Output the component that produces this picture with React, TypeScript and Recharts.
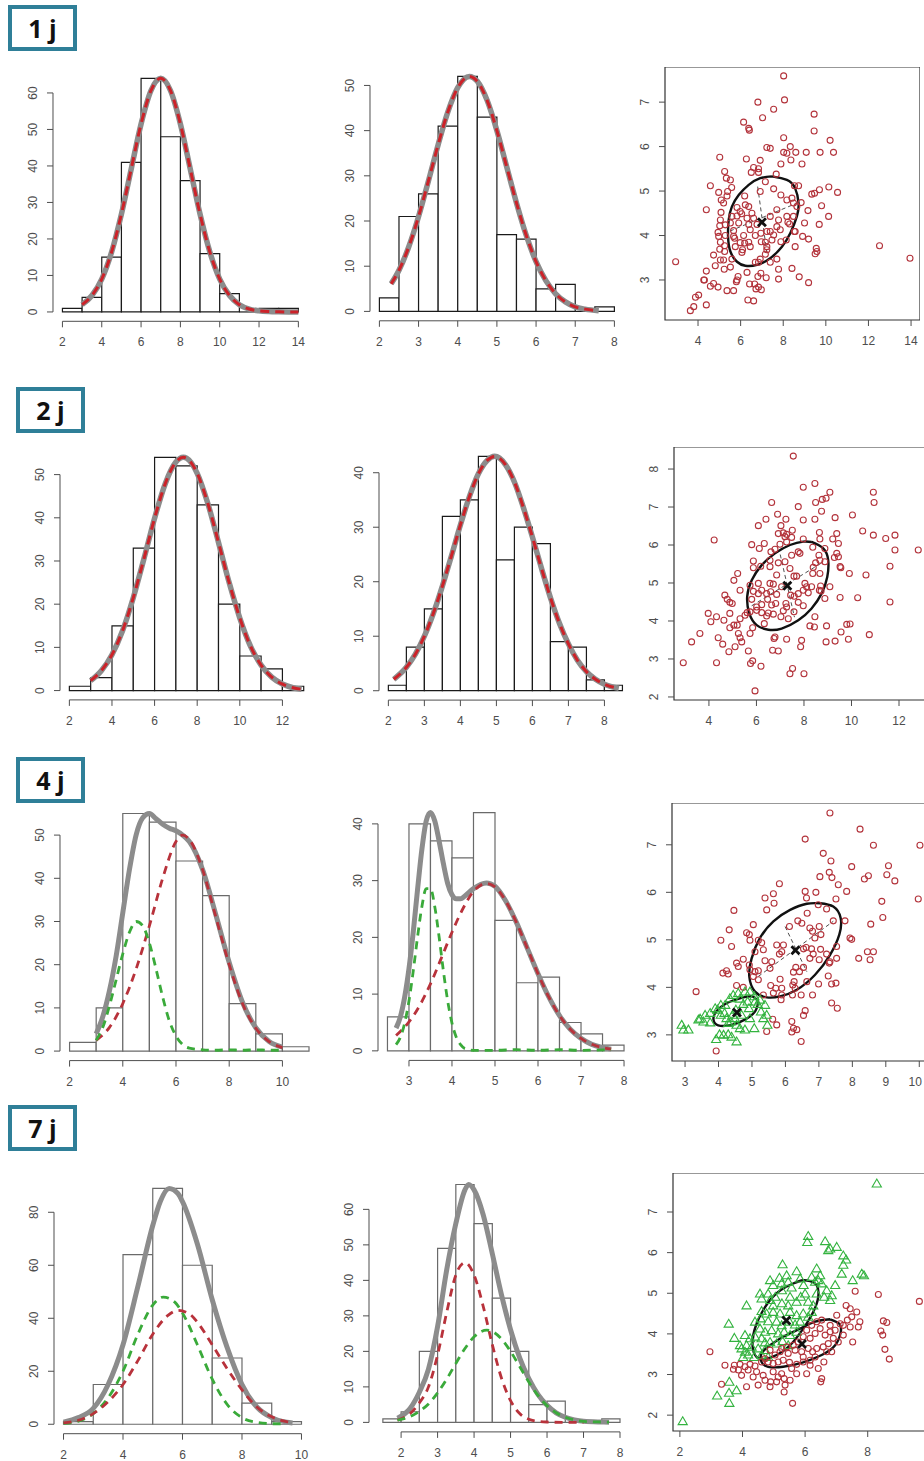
import React from 'react';
import { ComposedChart, XAxis, YAxis, Line, Scatter, ReferenceArea, ReferenceLine } from 'recharts';

type P = [number, number];
const pts = (a: P[]) => a.map(([x, y]) => ({ x, y }));

const AXIS = '#4d4d4d';
const FONT = '"Liberation Sans", Arial, Helvetica, sans-serif';
const GRAY = '#8c8c8c';
const RED = '#cc2229';
const RED2 = '#b8323b';
const GREEN = '#3aaa3a';
const PT_RED = '#b3333b';
const PT_GREEN = '#33b33f';
const FRAME = '#2f7f98';

// ---- histogram counts (bin start, width, counts) ----
const counts11 = [1, 4, 15, 41, 64, 48, 36, 16, 5, 0, 1, 1];
const counts12 = [3, 21, 26, 41, 52, 43, 17, 16, 5, 6, 0, 1];
const counts21 = [1, 3, 15, 33, 54, 52, 43, 20, 8, 5, 1];
const counts22 = [1, 8, 15, 32, 35, 43, 24, 30, 27, 9, 8, 2, 1];
const counts31 = [2, 10, 55, 53, 44, 36, 11, 4, 1];
const counts32 = [6, 40, 37, 34, 42, 23, 12, 13, 5, 3, 1];
const counts41 = [1, 15, 64, 89, 60, 25, 8, 1];
const counts42 = [1, 3, 20, 49, 67, 56, 35, 20, 5, 6, 0, 0, 1];

// ---- fitted density curves ----
const fit11: P[] = [[3, 2], [3.5, 4.5], [4, 9], [4.5, 16.4], [5, 26.8], [5.5, 39.2], [6, 51.5], [6.5, 60.6], [7, 64], [7.5, 60.6], [8, 51.5], [8.5, 39.2], [9, 26.8], [9.5, 16.4], [10, 9], [10.5, 4.5], [11, 2], [11.5, 0.8], [12, 0.3], [12.5, 0.1], [13, 0.03], [13.5, 0], [14, 0]];
const fit12: P[] = [[2.3, 6.1], [2.5, 9.1], [2.75, 14.3], [3, 21], [3.25, 28.8], [3.5, 36.9], [3.75, 44.2], [4, 49.5], [4.3, 52], [4.5, 50.9], [4.75, 46.7], [5, 40], [5.25, 32], [5.5, 24], [5.75, 16.8], [6, 11], [6.25, 6.8], [6.5, 3.9], [6.75, 2.1], [7, 1], [7.25, 0.5], [7.6, 0.15]];
const fit21: P[] = [[3, 2.3], [3.5, 4.6], [4, 8.3], [4.5, 13.9], [5, 21.5], [5.5, 30.5], [6, 39.9], [6.5, 47.9], [7, 52.9], [7.35, 54], [7.5, 53.8], [8, 50.3], [8.5, 43.3], [9, 34.3], [9.5, 25], [10, 16.8], [10.5, 10.3], [11, 5.9], [11.5, 3.1], [12, 1.5], [12.5, 0.65], [12.9, 0.3]];
const fit22: P[] = [[2.15, 2.1], [2.5, 4.3], [2.75, 6.7], [3, 10], [3.25, 14.2], [3.5, 19.2], [3.75, 24.7], [4, 30.4], [4.25, 35.6], [4.5, 39.8], [4.75, 42.3], [4.95, 43], [5.25, 41.5], [5.5, 38.3], [5.75, 33.6], [6, 28.2], [6.25, 22.5], [6.5, 17.1], [6.75, 12.4], [7, 8.6], [7.25, 5.6], [7.5, 3.5], [7.75, 2.1], [8, 1.2], [8.4, 0.45]];

const gray31: P[] = [[3, 4], [3.25, 8], [3.5, 14], [3.75, 22], [4, 32], [4.25, 42], [4.5, 50], [4.75, 54], [5, 55], [5.25, 53.8], [5.5, 52.5], [5.75, 51.6], [6, 51], [6.25, 50], [6.5, 48.5], [7, 42], [7.5, 31.5], [8, 20.5], [8.5, 11.3], [9, 5.4], [9.5, 2.2], [10, 0.9]];
const red31: P[] = [[3, 2.5], [3.5, 5.5], [4, 11], [4.5, 19], [5, 29], [5.5, 40], [6, 48.5], [6.25, 50], [6.5, 49], [7, 42], [7.5, 31], [8, 20], [8.5, 11], [9, 5.3], [9.5, 2.2], [10, 0.8]];
const green31: P[] = [[3, 2.5], [3.25, 5.5], [3.5, 10.5], [3.75, 16.5], [4, 22.5], [4.25, 27.5], [4.5, 30], [4.75, 29], [5, 25], [5.25, 19], [5.5, 12.5], [5.75, 7], [6, 3.5], [6.25, 1.5], [6.5, 0.7], [7, 0.3], [7.5, 0.2], [8, 0.3], [8.5, 0.2], [9, 0.3], [9.5, 0.2], [10, 0.2]];

const gray32: P[] = [[2.7, 4], [2.8, 6], [2.9, 9.5], [3, 14.5], [3.1, 21], [3.2, 28.5], [3.3, 35.5], [3.4, 40.5], [3.5, 42], [3.6, 40.5], [3.7, 37], [3.8, 33], [3.9, 29.5], [4, 27.5], [4.1, 26.8], [4.2, 26.8], [4.3, 27.3], [4.5, 28.6], [4.8, 29.6], [5, 29], [5.25, 26.4], [5.5, 22.6], [5.75, 18.1], [6, 13.6], [6.25, 9.5], [6.5, 6.2], [6.75, 3.8], [7, 2.2], [7.25, 1.15], [7.5, 0.6], [7.7, 0.3]];
const red32: P[] = [[2.7, 2.7], [3, 5.1], [3.25, 8], [3.5, 11.8], [3.75, 16.3], [4, 20.9], [4.25, 25], [4.5, 28.1], [4.8, 29.5], [5, 28.9], [5.25, 26.4], [5.5, 22.6], [5.75, 18.1], [6, 13.6], [6.25, 9.5], [6.5, 6.2], [6.75, 3.8], [7, 2.2], [7.25, 1.15], [7.5, 0.57], [7.7, 0.3]];
const green32: P[] = [[2.7, 1.1], [2.8, 2.4], [2.9, 4.9], [3, 8.8], [3.1, 14.1], [3.2, 20.1], [3.3, 25.4], [3.4, 28.6], [3.5, 28.6], [3.6, 25.4], [3.7, 20.1], [3.8, 14.1], [3.9, 8.8], [4, 4.9], [4.1, 2.4], [4.2, 1.1], [4.3, 0.4], [4.5, 0.1], [5, 0.1], [5.5, 0.2], [6, 0.1], [6.5, 0.2], [7, 0.1], [7.7, 0.2]];

const gray41: P[] = [[2, 0.8], [2.5, 2.5], [3, 6], [3.5, 15], [4, 30], [4.5, 52], [5, 75], [5.25, 84], [5.55, 89], [5.85, 87], [6, 84], [6.5, 68], [7, 47], [7.5, 29], [8, 15], [8.5, 6.5], [9, 2.5], [9.5, 0.8], [9.7, 0.5]];
const green41: P[] = [[2, 0.3], [2.5, 1.2], [3, 4], [3.5, 10], [4, 20], [4.5, 34], [5, 45], [5.35, 48], [5.75, 46], [6, 42], [6.5, 30], [7, 17], [7.5, 7.5], [8, 2.5], [8.5, 0.7], [9, 0.2], [9.5, 0.1]];
const red41: P[] = [[2, 0.5], [2.5, 1.5], [3, 4], [3.5, 8.5], [4, 15], [4.5, 24], [5, 34], [5.5, 41], [5.85, 43], [6.25, 41.5], [6.5, 38.5], [7, 30], [7.5, 21], [8, 13], [8.5, 6.5], [9, 2.8], [9.5, 1], [9.7, 0.6]];

const gray42: P[] = [[1.9, 1.2], [2.25, 4], [2.5, 8.5], [2.75, 15], [3, 27], [3.25, 43], [3.5, 56], [3.75, 65.5], [3.85, 67], [4, 65.5], [4.25, 58.5], [4.5, 47.5], [4.75, 36], [5, 26.1], [5.25, 18.2], [5.5, 12.3], [5.75, 7.9], [6, 4.8], [6.25, 2.7], [6.5, 1.45], [6.75, 0.7], [7, 0.3], [7.5, 0.1], [7.7, 0.05]];
const red42: P[] = [[1.9, 0.6], [2.25, 2.5], [2.5, 5.5], [2.75, 10], [3, 19], [3.25, 31], [3.5, 41.5], [3.75, 45], [4, 41.5], [4.25, 32.7], [4.5, 21.9], [4.75, 12.5], [5, 6.1], [5.25, 2.5], [5.5, 0.9], [5.75, 0.3], [6, 0.1], [6.5, 0], [7, 0]];
const green42: P[] = [[1.9, 0.6], [2.25, 1.65], [2.5, 3.1], [2.75, 5.2], [3, 8.3], [3.25, 12.2], [3.5, 16.6], [3.75, 20.8], [4, 24.1], [4.35, 26], [4.5, 25.6], [4.75, 23.5], [5, 20], [5.25, 15.7], [5.5, 11.4], [5.75, 7.6], [6, 4.7], [6.25, 2.7], [6.5, 1.45], [6.75, 0.7], [7, 0.3], [7.5, 0.1], [7.7, 0.05]];

// ---- scatter points ----
const dots1: P[] = [[8.02, 7.59], [6.81, 7.0], [8.06, 7.05], [7.55, 6.84], [7.03, 6.65], [9.45, 6.73], [6.14, 6.55], [6.38, 6.41], [6.41, 6.37], [9.45, 6.35], [8.02, 6.2], [10.2, 6.14], [7.23, 5.98], [7.39, 5.96], [8.33, 6.0], [8.02, 5.87], [8.17, 5.85], [8.59, 5.87], [9.08, 5.87], [9.73, 5.87], [10.36, 5.87], [8.36, 5.7], [6.27, 5.72], [5.02, 5.76], [6.92, 5.69], [7.89, 5.61], [8.88, 5.61], [6.61, 5.53], [6.84, 5.5], [5.25, 5.44], [6.5, 5.42], [6.84, 5.42], [7.67, 5.38], [5.33, 5.29], [5.52, 5.25], [7.16, 5.21], [4.58, 5.12], [5.58, 5.08], [8.53, 5.12], [8.72, 5.12], [10.14, 5.09], [9.7, 5.03], [7.55, 5.05], [4.97, 4.97], [5.39, 4.99], [6.92, 4.99], [9.34, 4.93], [9.47, 4.95], [10.55, 4.97], [5.36, 4.89], [6.19, 4.89], [5.09, 4.8], [5.2, 4.73], [7.89, 4.91], [8.17, 4.8], [8.41, 4.84], [8.48, 4.73], [8.84, 4.74], [4.39, 4.58], [9.8, 4.67], [6.22, 4.69], [5.83, 4.63], [6.38, 4.65], [7.7, 4.58], [8.64, 4.65], [5.08, 4.52], [5.98, 4.54], [6.53, 4.5], [6.05, 4.49], [9.16, 4.56], [5.59, 4.43], [5.83, 4.44], [6.3, 4.39], [6.61, 4.39], [7.39, 4.43], [8.17, 4.43], [5.05, 4.35], [8.48, 4.43], [10.13, 4.43], [5.52, 4.28], [5.91, 4.28], [6.38, 4.25], [6.77, 4.25], [7.78, 4.35], [8.22, 4.3], [8.3, 4.26], [9.0, 4.28], [9.69, 4.25], [5.02, 4.22], [5.28, 4.24], [7.7, 4.2], [7.86, 4.13], [5.67, 4.11], [6.45, 4.13], [6.95, 4.05], [7.23, 4.09], [7.39, 4.09], [7.55, 4.01], [8.52, 4.09], [8.56, 4.09], [4.94, 4.07], [5.28, 4.0], [5.67, 3.98], [6.14, 4.0], [6.69, 4.0], [4.97, 3.98], [8.91, 3.98], [9.19, 3.92], [8.14, 3.9], [7.47, 3.9], [7.89, 3.86], [5.72, 3.94], [5.05, 3.85], [5.98, 3.84], [6.19, 3.83], [6.38, 3.85], [6.97, 3.86], [7.16, 3.85], [5.25, 3.77], [5.75, 3.75], [6.45, 3.75], [7.23, 3.75], [8.56, 3.75], [6.06, 3.62], [6.09, 3.68], [7.23, 3.68], [5.25, 3.64], [5.02, 3.69], [4.73, 3.56], [7.16, 3.58], [9.55, 3.71], [9.58, 3.64], [9.5, 3.59], [12.52, 3.77], [13.95, 3.49], [2.95, 3.41], [5.05, 3.45], [5.2, 3.45], [5.59, 3.47], [6.92, 3.47], [7.7, 3.47], [6.69, 3.4], [6.84, 3.4], [7.39, 3.4], [8.41, 3.26], [7.78, 3.24], [4.81, 3.32], [4.39, 3.2], [5.23, 3.24], [5.52, 3.29], [7.2, 3.05], [6.3, 3.17], [6.95, 3.15], [4.27, 3.0], [4.3, 3.0], [5.88, 3.08], [5.83, 3.0], [6.81, 3.08], [6.42, 2.91], [6.66, 2.91], [8.75, 3.07], [9.19, 2.94], [4.58, 2.86], [4.94, 2.84], [4.73, 2.92], [5.8, 2.96], [5.36, 2.76], [5.67, 2.76], [6.72, 2.8], [6.97, 2.78], [6.84, 2.84], [4.03, 2.66], [3.88, 2.61], [3.8, 2.4], [3.64, 2.31], [4.39, 2.44], [6.34, 2.55], [6.61, 2.53], [7.78, 3.02]];

const dots2: P[] = [[7.55, 8.34], [8.46, 7.62], [7.97, 7.52], [9.09, 7.39], [10.92, 7.39], [10.95, 7.12], [6.64, 7.12], [8.49, 7.12], [8.77, 7.2], [8.93, 7.23], [7.76, 7.01], [6.89, 6.81], [8.74, 6.89], [6.4, 6.68], [7.24, 6.68], [7.97, 6.66], [8.46, 6.68], [9.31, 6.72], [10.04, 6.79], [6.08, 6.51], [7.03, 6.51], [7.51, 6.39], [8.65, 6.33], [10.47, 6.37], [7.13, 6.32], [7.27, 6.28], [6.92, 6.3], [9.38, 6.3], [10.92, 6.26], [11.44, 6.17], [11.83, 6.26], [4.22, 6.13], [7.2, 6.22], [7.48, 6.2], [7.97, 6.16], [8.67, 6.16], [9.21, 6.16], [7.27, 6.08], [6.99, 6.02], [5.8, 6.01], [6.33, 6.04], [9.45, 6.04], [6.12, 5.91], [6.78, 5.89], [8.37, 5.94], [8.88, 5.91], [11.83, 5.87], [12.81, 5.87], [6.61, 5.82], [7.76, 5.82], [7.83, 5.78], [7.48, 5.73], [8.63, 5.73], [9.38, 5.78], [9.45, 5.69], [9.28, 5.67], [5.87, 5.58], [6.57, 5.6], [6.92, 5.53], [7.2, 5.56], [8.49, 5.53], [8.67, 5.6], [8.88, 5.56], [5.87, 5.4], [6.18, 5.44], [6.57, 5.43], [8.39, 5.41], [9.52, 5.43], [9.55, 5.4], [7.41, 5.38], [11.62, 5.44], [5.21, 5.25], [6.85, 5.21], [7.58, 5.18], [7.69, 5.18], [8.37, 5.25], [8.67, 5.25], [9.91, 5.25], [10.61, 5.21], [5.05, 5.07], [5.73, 4.94], [6.08, 4.99], [6.57, 4.99], [6.71, 4.97], [7.06, 4.9], [8.04, 4.99], [8.11, 4.9], [8.32, 4.9], [8.7, 4.92], [9.09, 4.9], [5.31, 4.81], [5.87, 4.78], [6.22, 4.81], [6.6, 4.77], [7.97, 4.81], [8.18, 4.74], [8.65, 4.81], [8.72, 4.79], [4.67, 4.68], [6.08, 4.72], [6.43, 4.72], [6.85, 4.7], [7.44, 4.68], [7.59, 4.65], [7.76, 4.72], [9.52, 4.62], [10.26, 4.61], [4.77, 4.57], [4.88, 4.49], [5.8, 4.57], [6.47, 4.57], [6.81, 4.46], [7.24, 4.46], [7.76, 4.49], [8.88, 4.59], [11.62, 4.5], [4.98, 4.46], [6.22, 4.43], [6.64, 4.42], [6.01, 4.37], [7.27, 4.37], [7.97, 4.4], [7.13, 4.27], [6.01, 4.28], [6.22, 4.22], [4.88, 4.2], [5.61, 4.22], [5.73, 4.24], [6.5, 4.21], [6.71, 4.18], [7.58, 4.24], [3.97, 4.2], [5.52, 4.15], [5.31, 4.06], [4.32, 4.11], [4.63, 4.02], [8.46, 4.11], [6.43, 4.13], [7.03, 4.11], [7.34, 4.06], [4.08, 3.98], [6.33, 3.93], [8.25, 3.87], [8.44, 3.84], [8.95, 3.87], [9.8, 3.91], [9.94, 3.92], [4.88, 3.82], [5.19, 3.89], [5.05, 3.89], [5.84, 3.82], [3.62, 3.67], [5.24, 3.67], [5.73, 3.67], [9.56, 3.71], [10.75, 3.64], [4.39, 3.56], [5.31, 3.56], [6.78, 3.58], [6.74, 3.54], [5.38, 3.45], [4.58, 3.39], [3.27, 3.45], [7.27, 3.52], [7.9, 3.49], [8.93, 3.45], [9.31, 3.47], [9.87, 3.52], [5.1, 3.32], [7.86, 3.32], [5.66, 3.21], [4.84, 3.19], [6.68, 3.23], [6.92, 3.21], [2.92, 2.9], [4.32, 2.9], [5.84, 2.95], [5.75, 2.88], [6.19, 2.81], [7.52, 2.75], [7.41, 2.61], [8.0, 2.61], [5.94, 2.16]];

const red3: P[] = [[7.33, 7.67], [8.23, 7.33], [6.59, 7.12], [8.63, 6.99], [10.02, 6.99], [7.13, 6.82], [7.36, 6.66], [7.98, 6.54], [9.08, 6.56], [7.31, 6.42], [7.03, 6.33], [7.39, 6.31], [8.36, 6.28], [8.48, 6.35], [9.03, 6.37], [9.27, 6.24], [7.58, 6.16], [5.82, 6.18], [7.83, 6.02], [6.59, 6.02], [6.91, 6.0], [5.64, 5.97], [5.39, 5.88], [5.66, 5.77], [6.63, 5.88], [7.51, 5.86], [9.97, 5.86], [8.88, 5.81], [6.98, 5.74], [4.46, 5.62], [5.44, 5.63], [7.23, 5.65], [6.65, 5.56], [8.91, 5.47], [7.43, 5.4], [7.78, 5.4], [6.37, 5.4], [6.49, 5.35], [8.55, 5.33], [5.04, 5.32], [6.12, 5.28], [4.32, 5.21], [6.73, 5.25], [6.81, 5.18], [7.01, 5.28], [4.84, 5.15], [4.92, 5.11], [6.88, 5.04], [7.06, 5.11], [7.93, 5.04], [7.98, 5.01], [4.07, 4.99], [5.19, 4.99], [4.94, 4.99], [5.29, 4.94], [5.74, 4.89], [5.94, 4.89], [4.39, 4.86], [5.34, 4.79], [6.62, 4.84], [6.54, 4.81], [6.78, 4.81], [7.05, 4.8], [7.53, 4.86], [5.09, 4.75], [5.89, 4.75], [5.82, 4.7], [6.83, 4.7], [7.23, 4.7], [8.45, 4.75], [8.63, 4.75], [4.74, 4.59], [6.73, 4.61], [7.01, 4.58], [7.53, 4.61], [8.19, 4.61], [8.53, 4.58], [4.54, 4.51], [5.39, 4.56], [5.59, 4.54], [7.33, 4.54], [7.31, 4.51], [4.59, 4.44], [4.92, 4.47], [6.31, 4.42], [6.54, 4.42], [4.94, 4.37], [5.09, 4.33], [5.19, 4.35], [5.54, 4.4], [6.24, 4.32], [6.42, 4.33], [4.13, 4.3], [4.29, 4.28], [4.24, 4.35], [5.04, 4.23], [7.28, 4.24], [5.84, 4.17], [5.19, 4.16], [6.26, 4.12], [6.64, 4.12], [6.99, 4.07], [7.38, 4.07], [7.51, 4.09], [4.54, 4.04], [4.74, 4.0], [5.56, 4.04], [5.71, 3.98], [6.22, 4.05], [6.29, 3.98], [5.89, 3.98], [3.33, 3.91], [5.89, 3.84], [6.21, 3.84], [6.47, 3.84], [6.81, 3.84], [5.87, 3.74], [7.38, 3.67], [7.55, 3.56], [6.59, 3.51], [6.54, 3.41], [5.62, 3.33], [5.74, 3.21], [5.44, 3.07], [6.19, 3.28], [6.24, 3.14], [6.34, 3.11], [6.19, 3.06], [6.47, 2.86], [3.93, 2.66], [5.34, 3.84], [5.64, 3.88]];
const green3: P[] = [[2.9, 3.21], [2.95, 3.11], [3.1, 3.11], [3.45, 3.34], [3.55, 3.28], [3.75, 3.26], [3.93, 2.91], [4.03, 3.01], [4.15, 3.0], [4.29, 3.01], [3.97, 3.53], [4.07, 3.42], [4.18, 3.46], [4.24, 3.35], [4.29, 3.25], [4.37, 3.28], [4.42, 3.42], [4.52, 3.53], [4.34, 3.77], [4.44, 3.84], [4.64, 3.76], [4.74, 3.65], [4.87, 3.7], [4.91, 3.56], [4.94, 3.91], [5.07, 3.81], [5.17, 3.65], [5.39, 3.63], [5.27, 3.49], [5.44, 3.42], [5.34, 3.35], [5.46, 3.21], [5.07, 3.14], [4.79, 3.11], [4.64, 3.14], [4.54, 3.21], [4.49, 3.35], [4.69, 3.42], [4.94, 3.35], [4.2, 3.63], [4.07, 3.63], [3.9, 3.56], [3.75, 3.46], [3.6, 3.42], [3.4, 3.32], [4.59, 3.88], [4.79, 3.91], [4.54, 2.86], [4.39, 2.96], [5.09, 3.7], [5.24, 3.74]];

const green4: P[] = [[2.09, 1.85], [3.19, 2.48], [3.58, 2.3], [3.57, 2.55], [3.58, 2.82], [3.81, 2.61], [8.29, 7.7], [6.1, 6.41], [6.07, 6.26], [6.64, 6.28], [6.74, 6.06], [6.8, 6.1], [7.01, 6.14], [7.22, 5.93], [7.31, 5.83], [7.22, 5.7], [7.17, 5.48], [7.81, 5.48], [7.88, 5.44], [7.52, 5.32], [5.28, 5.71], [5.73, 5.54], [5.41, 5.44], [5.46, 5.28], [5.25, 5.24], [5.57, 5.14], [5.84, 5.36], [5.95, 5.2], [6.48, 5.44], [6.42, 5.32], [6.53, 5.24], [6.69, 5.07], [6.96, 5.2], [6.85, 4.95], [6.8, 4.83], [6.61, 4.91], [6.37, 4.99], [4.56, 4.99], [4.82, 4.99], [4.61, 4.87], [4.89, 4.83], [5.05, 4.91], [5.26, 4.75], [5.46, 4.7], [5.73, 4.79], [5.86, 4.91], [6.1, 4.79], [6.26, 4.7], [6.21, 4.54], [4.13, 4.7], [4.61, 4.56], [4.77, 4.5], [4.98, 4.54], [5.2, 4.5], [5.52, 4.54], [5.73, 4.46], [5.94, 4.5], [6.1, 4.42], [4.58, 4.38], [4.82, 4.31], [5.09, 4.3], [5.25, 4.21], [5.5, 4.3], [5.68, 4.23], [5.84, 4.3], [3.56, 4.25], [4.56, 4.13], [4.72, 4.05], [4.93, 4.09], [5.14, 4.01], [5.33, 4.05], [5.52, 3.97], [5.73, 4.05], [3.74, 3.9], [4.24, 3.89], [4.4, 3.93], [4.61, 3.89], [4.88, 3.8], [5.09, 3.76], [4.13, 3.72], [3.97, 3.64], [4.08, 3.56], [4.29, 3.68], [4.5, 3.64], [4.72, 3.6], [4.02, 3.43], [4.18, 3.49], [4.37, 3.43], [4.61, 3.48], [4.82, 3.43], [4.08, 3.97], [3.92, 3.72], [5.28, 3.82], [5.46, 3.72], [4.72, 3.79], [6.37, 5.61], [6.21, 5.4], [6.32, 5.28], [4.88, 5.32], [5.18, 5.38], [4.98, 5.2], [5.52, 4.91], [5.26, 5.07], [6.0, 4.99], [4.4, 4.3], [4.98, 4.7]];
const red4: P[] = [[8.34, 4.97], [9.65, 4.8], [7.6, 5.05], [7.31, 4.7], [7.44, 4.62], [7.65, 4.54], [7.49, 4.42], [7.35, 4.34], [7.75, 4.3], [7.22, 4.21], [7.01, 4.46], [7.44, 4.17], [7.7, 4.17], [8.5, 4.32], [8.61, 4.28], [8.42, 4.07], [8.48, 3.97], [7.52, 3.8], [8.55, 3.62], [8.69, 3.38], [2.96, 3.56], [3.44, 3.23], [3.74, 3.23], [3.92, 3.25], [3.71, 3.13], [3.87, 3.11], [4.08, 3.19], [4.24, 3.25], [4.4, 3.21], [4.18, 3.11], [3.97, 2.98], [4.34, 2.94], [3.33, 2.76], [4.13, 2.7], [4.5, 2.74], [4.66, 2.98], [4.72, 2.86], [4.88, 2.7], [4.9, 2.82], [4.98, 3.07], [5.14, 2.94], [5.25, 3.02], [5.33, 2.9], [5.36, 2.74], [5.33, 2.57], [5.6, 2.29], [5.73, 3.02], [6.05, 3.02], [6.42, 3.15], [6.53, 2.9], [6.5, 2.82], [6.6, 3.31], [4.72, 3.39], [4.82, 3.31], [4.98, 3.27], [5.14, 3.31], [5.3, 3.35], [5.5, 3.3], [5.73, 3.25], [5.94, 3.31], [6.16, 3.35], [6.32, 3.43], [5.04, 3.48], [5.2, 3.56], [5.46, 3.52], [5.68, 3.6], [5.89, 3.56], [6.1, 3.64], [6.24, 3.56], [6.37, 3.64], [6.58, 3.68], [6.74, 3.76], [6.9, 3.89], [6.8, 4.05], [6.96, 4.09], [6.64, 3.97], [6.48, 4.13], [6.32, 4.01], [6.16, 3.89], [5.94, 3.93], [5.78, 3.8], [5.62, 3.72], [5.41, 3.68], [5.25, 3.64], [6.37, 4.3], [6.53, 4.34], [7.12, 4.25], [7.22, 3.97], [7.06, 3.8], [6.21, 4.21], [6.05, 4.09], [6.8, 4.21], [4.88, 3.6], [4.61, 3.31], [4.45, 3.07], [5.09, 2.82], [5.52, 2.86], [5.57, 3.15], [5.94, 3.43], [6.16, 3.23], [6.69, 3.56], [6.85, 3.56]];

// ---- fitted ellipses, centres, inner axes ----
const ell1: P[] = [[7.47, 5.33], [8.17, 5.25], [8.56, 5.06], [8.72, 4.73], [8.64, 4.43], [8.33, 4.05], [7.94, 3.75], [7.39, 3.49], [6.77, 3.34], [6.22, 3.32], [5.83, 3.41], [5.52, 3.64], [5.41, 3.98], [5.44, 4.35], [5.59, 4.65], [5.91, 4.91], [6.38, 5.14], [6.92, 5.29], [7.47, 5.33]];
const ell2: P[] = [[8.32, 6.08], [8.81, 5.91], [9.02, 5.6], [8.98, 5.16], [8.74, 4.72], [8.32, 4.33], [7.76, 4.02], [7.06, 3.8], [6.5, 3.77], [6.01, 3.89], [5.7, 4.2], [5.61, 4.64], [5.8, 5.07], [6.22, 5.47], [6.78, 5.78], [7.41, 6.0], [7.97, 6.09], [8.32, 6.08]];
const ell3a: P[] = [[7.03, 5.77], [7.43, 5.7], [7.65, 5.46], [7.61, 5.11], [7.33, 4.68], [6.88, 4.26], [6.34, 3.95], [5.84, 3.81], [5.44, 3.79], [5.09, 3.91], [4.92, 4.23], [4.99, 4.61], [5.24, 5.04], [5.64, 5.39], [6.14, 5.63], [6.64, 5.76], [7.03, 5.77]];
const ell3b: P[] = [[5.19, 3.7], [5.09, 3.49], [4.79, 3.32], [4.39, 3.21], [3.99, 3.2], [3.85, 3.32], [3.93, 3.49], [4.25, 3.67], [4.64, 3.77], [5.0, 3.81], [5.19, 3.7]];
const ell4a: P[] = [[6.16, 5.3], [6.37, 5.2], [6.42, 4.91], [6.26, 4.54], [5.94, 4.13], [5.52, 3.72], [5.09, 3.48], [4.66, 3.38], [4.4, 3.48], [4.32, 3.8], [4.43, 4.21], [4.72, 4.66], [5.14, 5.03], [5.62, 5.24], [5.94, 5.32], [6.16, 5.3]];
const ell4b: P[] = [[6.8, 4.36], [7.09, 4.25], [7.14, 4.05], [6.96, 3.72], [6.53, 3.48], [5.94, 3.3], [5.3, 3.19], [4.82, 3.19], [4.61, 3.31], [4.61, 3.52], [4.88, 3.72], [5.3, 3.93], [5.84, 4.13], [6.32, 4.3], [6.8, 4.36]];

const mu1: P[] = [[7.0, 4.3]];
const mu2: P[] = [[7.3, 4.93]];
const mu3: P[] = [[6.3, 4.78], [4.55, 3.47]];
const mu4: P[] = [[5.4, 4.33], [5.9, 3.75]];

const axes1: P[][] = [[[6.8, 5.1], [7.25, 3.55]], [[5.5, 4.1], [8.6, 4.72]]];
const axes2: P[][] = [[[7.0, 5.75], [7.6, 4.1]], [[5.8, 4.4], [8.8, 5.55]]];
const axes3: P[][] = [[[5.19, 4.23], [7.43, 5.39]], [[5.99, 5.28], [6.64, 4.33]]];

const range = (a: number, b: number, s: number) => {
  const out: number[] = [];
  for (let v = a; v <= b + 1e-9; v += s) out.push(+v.toFixed(2));
  return out;
};

const PAGE_W = 924;

// x tick: mark below the axis, label kept inside the page
const XTick = ({ x, y, payload, maxX }: any) => {
  const label = String(payload.value);
  const half = label.length * 3.4;
  const tx = maxX !== undefined ? Math.min(x, maxX - half) : x;
  return (
    <g>
      <line x1={x} y1={y} x2={x} y2={y + 6} stroke={AXIS} strokeWidth={1} />
      <text x={tx} y={y + 25} textAnchor="middle" fontSize={12} fill={AXIS} fontFamily={FONT}>{label}</text>
    </g>
  );
};

const YTick = ({ x, y, payload }: any) => (
  <g>
    <line x1={x - 6} y1={y} x2={x} y2={y} stroke={AXIS} strokeWidth={1} />
    <text x={x - 16} y={y} transform={`rotate(-90 ${x - 16} ${y})`} textAnchor="middle" fontSize={12} fill={AXIS} fontFamily={FONT}>{payload.value}</text>
  </g>
);

const Ring = ({ cx, cy }: any) => <circle cx={cx} cy={cy} r={3} fill="none" stroke={PT_RED} strokeWidth={1.1} />;
const Tri = ({ cx, cy }: any) => (
  <path d={`M${cx},${cy - 4.5}L${cx + 4.6},${cy + 3.4}L${cx - 4.6},${cy + 3.4}Z`} fill="none" stroke={PT_GREEN} strokeWidth={1.1} />
);
const Cross = ({ cx, cy }: any) => (
  <path d={`M${cx - 4},${cy - 4}L${cx + 4},${cy + 4}M${cx - 4},${cy + 4}L${cx + 4},${cy - 4}`} stroke="#111" strokeWidth={2.8} />
);

type Curve = { d: P[]; c: string; w: number; dash?: string };

function Hist(props: any) {
  const { box, xd, yd, xt, yt, start, bw, counts, curves, edge } = props;
  const [l, t, r, b] = box;
  const maxX = PAGE_W - 2 - (l - 40);
  const bins = counts.map((c: number, i: number) => ({ x1: start + i * bw, x2: start + (i + 1) * bw, c }));
  return (
    <div style={{ position: 'absolute', left: l - 40, top: t }}>
      <ComposedChart width={r - l + 40} height={b - t + 40} margin={{ top: 0, right: 0, bottom: 0, left: 0 }}>
        <XAxis type="number" dataKey="x" domain={xd} ticks={xt} allowDataOverflow interval={0}
          axisLine={false} tickLine={false} tickSize={0} tickMargin={0} height={40} tick={(p: any) => <XTick {...p} maxX={maxX} />} />
        <YAxis type="number" dataKey="y" domain={yd} ticks={yt} allowDataOverflow interval={0}
          axisLine={false} tickLine={false} tickSize={0} tickMargin={0} width={40} tick={YTick} />
        {bins.map((bn: any, i: number) =>
          bn.c > 0 ? (
            <ReferenceArea key={`b${i}`} x1={bn.x1} x2={bn.x2} y1={0} y2={bn.c} fill="#fff" fillOpacity={1}
              stroke={edge} strokeWidth={1.2} ifOverflow="visible" />
          ) : (
            <ReferenceLine key={`b${i}`} segment={[{ x: bn.x1, y: 0 }, { x: bn.x2, y: 0 }]} stroke={edge} strokeWidth={1.2} ifOverflow="visible" />
          )
        )}
        <ReferenceLine segment={[{ x: xt[0], y: yd[0] }, { x: xt[xt.length - 1], y: yd[0] }]} stroke={AXIS} ifOverflow="visible" />
        <ReferenceLine segment={[{ x: xd[0], y: yt[0] }, { x: xd[0], y: yt[yt.length - 1] }]} stroke={AXIS} ifOverflow="visible" />
        {curves.map((cv: Curve, i: number) => (
          <Line key={`c${i}`} data={pts(cv.d)} dataKey="y" type="monotone" stroke={cv.c} strokeWidth={cv.w}
            strokeDasharray={cv.dash} dot={false} activeDot={false} isAnimationActive={false} />
        ))}
      </ComposedChart>
    </div>
  );
}

function Scat(props: any) {
  const { box, xd, yd, xt, yt, groups, ellipses, centers, axes } = props;
  const [l, t, r, b] = box;
  const maxX = PAGE_W - 2 - (l - 40);
  return (
    <div style={{ position: 'absolute', left: l - 40, top: t }}>
      <ComposedChart width={r - l + 40} height={b - t + 40} margin={{ top: 0, right: 0, bottom: 0, left: 0 }}>
        <XAxis type="number" dataKey="x" domain={xd} ticks={xt} allowDataOverflow interval={0}
          axisLine={false} tickLine={false} tickSize={0} tickMargin={0} height={40} tick={(p: any) => <XTick {...p} maxX={maxX} />} />
        <YAxis type="number" dataKey="y" domain={yd} ticks={yt} allowDataOverflow interval={0}
          axisLine={false} tickLine={false} tickSize={0} tickMargin={0} width={40} tick={YTick} />
        <ReferenceArea x1={xd[0]} x2={xd[1]} y1={yd[0]} y2={yd[1]} fill="none" stroke="#333" strokeWidth={1.2} ifOverflow="visible" />
        {groups.map((g: any, i: number) => (
          <Scatter key={`g${i}`} data={pts(g.d)} dataKey="y" shape={g.shape} isAnimationActive={false} />
        ))}
        {(axes || []).map((a: P[], i: number) => (
          <Line key={`a${i}`} data={pts(a)} dataKey="y" type="linear" stroke="#222" strokeWidth={0.8}
            strokeDasharray="4 3" dot={false} activeDot={false} isAnimationActive={false} />
        ))}
        {ellipses.map((e: P[], i: number) => (
          <Line key={`e${i}`} data={pts(e)} dataKey="y" type="natural" stroke="#111" strokeWidth={2.4}
            dot={false} activeDot={false} isAnimationActive={false} />
        ))}
        <Scatter data={pts(centers)} dataKey="y" shape={Cross} isAnimationActive={false} />
      </ComposedChart>
    </div>
  );
}

const Tag = ({ text, l, t }: { text: string; l: number; t: number }) => (
  <div style={{
    position: 'absolute', left: l, top: t, width: 69, height: 46, boxSizing: 'border-box',
    border: `4px solid ${FRAME}`, display: 'flex', alignItems: 'center', justifyContent: 'center',
    fontFamily: '"Open Sans", "Liberation Sans", sans-serif', fontWeight: 700, fontSize: 25, color: '#111',
    background: '#fff', whiteSpace: 'pre',
  }}>{text}</div>
);

const single = (d: P[]): Curve[] => [
  { d, c: GRAY, w: 5.5 },
  { d, c: RED, w: 3, dash: '9 6' },
];

export default function App() {
  return (
    <div style={{ position: 'absolute', left: 0, top: 0, width: 924, height: 1461, overflow: 'hidden', background: '#fff' }}>
      <Tag text="1 j" l={8} t={5} />
      <Tag text="2 j" l={16} t={387} />
      <Tag text="4 j" l={16} t={757} />
      <Tag text="7 j" l={8} t={1105} />

      <Hist box={[52.6, 69, 307.4, 321.3]} xd={[1.52, 14.48]} yd={[-2.56, 66.56]} xt={range(2, 14, 2)} yt={range(0, 60, 10)}
        start={2} bw={1} counts={counts11} edge="#1a1a1a" curves={single(fit11)} />
      <Hist box={[369.6, 66.6, 623.4, 320.4]} xd={[1.76, 8.24]} yd={[-2.08, 54.08]} xt={range(2, 8, 1)} yt={range(0, 50, 10)}
        start={2} bw={0.5} counts={counts12} edge="#1a1a1a" curves={single(fit12)} />
      <Scat box={[665, 67, 920, 320]} xd={[2.45, 14.42]} yd={[2.1, 7.79]} xt={range(4, 14, 2)} yt={range(3, 7, 1)}
        groups={[{ d: dots1, shape: Ring }]} ellipses={[ell1]} centers={mu1} axes={axes1} />

      <Hist box={[59.6, 448.4, 312.7, 700.3]} xd={[1.56, 13.44]} yd={[-2.16, 56.16]} xt={range(2, 12, 2)} yt={range(0, 50, 10)}
        start={2} bw={1} counts={counts21} edge="#1a1a1a" curves={single(fit21)} />
      <Hist box={[378.6, 447.3, 631.4, 700.4]} xd={[1.74, 8.76]} yd={[-1.72, 44.72]} xt={range(2, 8, 1)} yt={range(0, 40, 10)}
        start={2} bw={0.5} counts={counts22} edge="#1a1a1a" curves={single(fit22)} />
      <Scat box={[674, 447, 928, 700]} xd={[2.53, 13.22]} yd={[1.92, 8.58]} xt={range(4, 12, 2)} yt={range(2, 8, 1)}
        groups={[{ d: dots2, shape: Ring }]} ellipses={[ell2]} centers={mu2} axes={axes2} />

      <Hist box={[60.4, 803.9, 319, 1060.5]} xd={[1.64, 11.36]} yd={[-2.2, 57.2]} xt={range(2, 10, 2)} yt={range(0, 50, 10)}
        start={2} bw={1} counts={counts31} edge="#6a6a6a"
        curves={[{ d: gray31, c: GRAY, w: 5 }, { d: red31, c: RED2, w: 2.8, dash: '8 6' }, { d: green31, c: GREEN, w: 2.8, dash: '8 6' }]} />
      <Hist box={[378, 803.1, 633.5, 1060.5]} xd={[2.28, 8.22]} yd={[-1.68, 43.68]} xt={range(3, 8, 1)} yt={range(0, 40, 10)}
        start={2.5} bw={0.5} counts={counts32} edge="#6a6a6a"
        curves={[{ d: gray32, c: GRAY, w: 5 }, { d: red32, c: RED2, w: 2.8, dash: '8 6' }, { d: green32, c: GREEN, w: 2.8, dash: '8 6' }]} />
      <Scat box={[672, 803, 936, 1061]} xd={[2.61, 10.5]} yd={[2.45, 7.88]} xt={range(3, 10, 1)} yt={range(3, 7, 1)}
        groups={[{ d: red3, shape: Ring }, { d: green3, shape: Tri }]} ellipses={[ell3a, ell3b]} centers={mu3} axes={axes3} />

      <Hist box={[53.5, 1178.7, 310.5, 1433.4]} xd={[1.68, 10.32]} yd={[-3.56, 92.56]} xt={range(2, 10, 2)} yt={range(0, 80, 20)}
        start={2} bw={1} counts={counts41} edge="#6a6a6a"
        curves={[{ d: gray41, c: GRAY, w: 5 }, { d: green41, c: GREEN, w: 2.8, dash: '8 6' }, { d: red41, c: RED2, w: 2.8, dash: '8 6' }]} />
      <Hist box={[369, 1174.6, 629.5, 1431.5]} xd={[1.12, 8.26]} yd={[-2.68, 69.68]} xt={range(2, 8, 1)} yt={range(0, 60, 10)}
        start={1.5} bw={0.5} counts={counts42} edge="#6a6a6a"
        curves={[{ d: gray42, c: GRAY, w: 5 }, { d: red42, c: RED2, w: 2.8, dash: '8 6' }, { d: green42, c: GREEN, w: 2.8, dash: '8 6' }]} />
      <Scat box={[673, 1173, 930, 1431]} xd={[1.78, 9.99]} yd={[1.61, 7.96]} xt={range(2, 8, 2)} yt={range(2, 7, 1)}
        groups={[{ d: green4, shape: Tri }, { d: red4, shape: Ring }]} ellipses={[ell4a, ell4b]} centers={mu4} />
    </div>
  );
}
